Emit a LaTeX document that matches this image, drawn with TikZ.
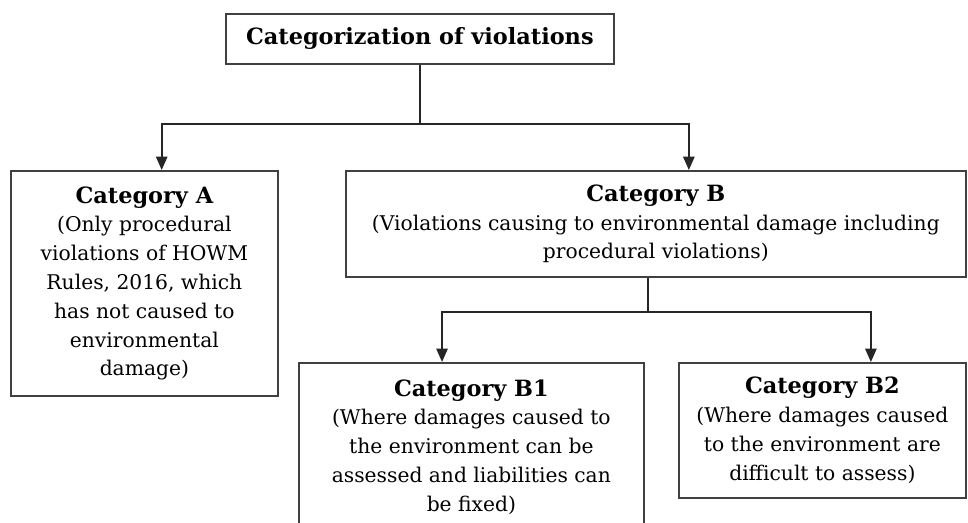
\documentclass[tikz,border=0pt]{standalone}
\usepackage{fontspec}
\setmainfont{DejaVu Serif}
\usetikzlibrary{arrows.meta}

\begin{document}
\begin{tikzpicture}[x=0.75pt,y=-0.75pt,
    box/.style={draw=black!75,line width=1.3pt,align=center,anchor=north west,inner sep=0pt,font=\fontsize{15.2}{21.6}\selectfont},
    link/.style={black!85,line width=1.2pt},
    arr/.style={link,-{Triangle[length=10pt,width=8.5pt]}}]
    \clip (0,0) rectangle (968,522);
    \node[box,minimum width=291pt,minimum height=37.5pt]	(top) at (225,13)	{\textbf{\fontsize{16.8}{21.5}\selectfont Categorization of violations}};
    \node[box,minimum width=200.25pt,minimum height=168.75pt]	(catA) at (10,170)	{{\bfseries\fontsize{16.8}{23}\selectfont Category A}\\(Only procedural\\violations of HOWM\\Rules, 2016, which\\has not caused to\\environmental\\damage)};
    \node[box,minimum width=465pt,minimum height=79.5pt]	(catB) at (345,170)	{{\bfseries\fontsize{16.8}{23}\selectfont Category B}\\(Violations causing to environmental damage including\\procedural violations)};
    \node[box,minimum width=258.75pt,minimum height=126pt]	(catBone) at (298,362)	{{\bfseries\fontsize{16.8}{23}\selectfont Category B1}\\(Where damages caused to\\the environment can be\\assessed and liabilities can\\be fixed)};
    \node[box,minimum width=215.25pt,minimum height=101.25pt]	(catBtwo) at (678,362)	{{\bfseries\fontsize{16.8}{23}\selectfont Category B2}\\(Where damages caused\\to the environment are\\difficult to assess)};
    % first level
    \draw[link] (top.south) -- (top.south |- 0,124) coordinate (jtop);
    \draw[arr] (jtop) -| ([xshift=13pt]catA.north);
    \draw[arr] (jtop) -| ([xshift=24.75pt]catB.north);
    % second level
    \draw[link] ([xshift=-6pt]catB.south) -- ([xshift=-6pt]catB.south |- 0,312) coordinate (jB);
    \draw[arr] (jB) -| ([xshift=-22pt]catBone.north);
    \draw[arr] (jB) -| ([xshift=36.4pt]catBtwo.north);
\end{tikzpicture}
\end{document}
